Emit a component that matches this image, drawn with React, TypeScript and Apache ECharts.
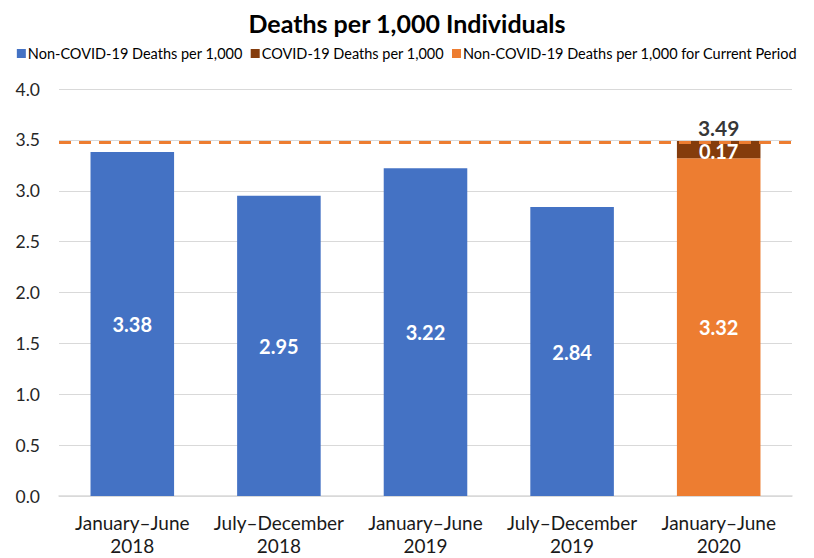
import React, { useEffect, useRef } from "react";
import * as echarts from "echarts";

const categories = [
  "January–June\n2018",
  "July–December\n2018",
  "January–June\n2019",
  "July–December\n2019",
  "January–June\n2020",
];
const nonCovid = [3.38, 2.95, 3.22, 2.84, null];
const nonCovidCurrent = [null, null, null, null, 3.32];
const covid = [null, null, null, null, 0.17];
const totals = [null, null, null, null, 3.49];
const referenceLine = 3.48;
const yTicks = { min: 0, max: 4, interval: 0.5 };

const FONT = "Lato, 'Open Sans', sans-serif";

export default function App() {
  const ref = useRef<HTMLDivElement>(null);
  useEffect(() => {
    const chart = echarts.init(ref.current!, undefined, { renderer: "svg" });
    const inside = {
      show: true,
      position: "inside",
      color: "#ffffff",
      fontWeight: "bold",
      fontSize: 20,
      fontFamily: FONT,
      formatter: (p: any) => Number(p.value).toFixed(2),
    };
    chart.setOption({
      animation: false,
      textStyle: { fontFamily: FONT },
      title: {
        text: "Deaths per 1,000 Individuals",
        left: "center",
        top: -3,
        textStyle: { fontSize: 25, fontWeight: "bold", color: "#000", fontFamily: FONT },
      },
      legend: {
        data: [
          "Non-COVID-19 Deaths per 1,000",
          "COVID-19 Deaths per 1,000",
          "Non-COVID-19 Deaths per 1,000 for Current Period",
        ],
        top: 33,
        left: "center",
        itemWidth: 9,
        itemHeight: 9,
        itemGap: 8,
        icon: "rect",
        textStyle: { fontSize: 14.5, color: "#000", fontFamily: FONT, padding: [0, 0, 0, -3] },
      },
      grid: {
        left: 51,
        right: 14,
        top: 81,
        bottom: 62,
        containLabel: false,
        outerBoundsMode: "none",
      },
      xAxis: {
        type: "category",
        data: categories,
        axisLine: { lineStyle: { color: "#d9d9d9", width: 1.5 } },
        axisTick: { show: false },
        axisLabel: {
          interval: 0,
          fontSize: 19,
          color: "#1a1a1a",
          lineHeight: 23,
          margin: 15,
          fontFamily: FONT,
        },
      },
      yAxis: {
        type: "value",
        min: yTicks.min,
        max: yTicks.max,
        interval: yTicks.interval,
        axisLabel: {
          fontSize: 17.5,
          color: "#262626",
          margin: 19,
          fontFamily: FONT,
          formatter: (v: number) => v.toFixed(1),
        },
        splitLine: { lineStyle: { color: "#d9d9d9", width: 1 } },
        axisLine: { show: false },
        axisTick: { show: false },
      },
      series: [
        {
          name: "Non-COVID-19 Deaths per 1,000",
          type: "bar",
          stack: "a",
          data: nonCovid,
          barWidth: "57%",
          itemStyle: { color: "#4472c4" },
          label: inside,
        },
        {
          name: "Non-COVID-19 Deaths per 1,000 for Current Period",
          type: "bar",
          stack: "a",
          data: nonCovidCurrent,
          barWidth: "57%",
          itemStyle: { color: "#ed7d31" },
          label: inside,
          markLine: {
            silent: true,
            symbol: "none",
            label: { show: false },
            lineStyle: { color: "#ed7d31", type: [12, 8], width: 3 },
            data: [{ yAxis: referenceLine }],
          },
        },
        {
          name: "COVID-19 Deaths per 1,000",
          type: "bar",
          stack: "a",
          data: covid,
          barWidth: "57%",
          itemStyle: { color: "#843c0c" },
          label: { ...inside, offset: [0, 1] },
        },
        {
          name: "Total",
          type: "scatter",
          data: totals,
          symbolSize: 0,
          label: {
            show: true,
            position: "top",
            distance: 3,
            color: "#000",
            fontWeight: "bold",
            fontSize: 21,
            fontFamily: FONT,
            formatter: (p: any) => Number(p.value).toFixed(2),
          },
        },
      ],
    });
    return () => chart.dispose();
  }, []);
  return <div ref={ref} style={{ width: 798, height: 550 }} />;
}
